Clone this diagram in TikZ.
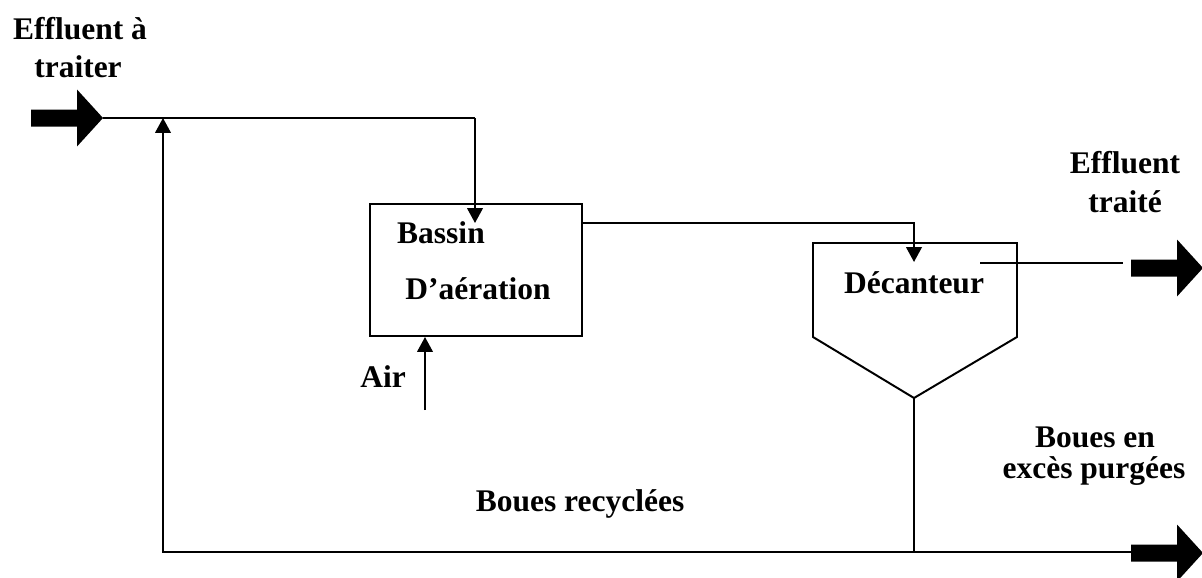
\documentclass[tikz,border=0pt]{standalone}
\usepackage{fontspec}
\setmainfont{Liberation Serif}
\usetikzlibrary{arrows.meta,positioning}

\tikzset{
  lbl/.style={font=\fontsize{22.4}{26}\selectfont\bfseries, inner sep=0pt, anchor=base},
  flow/.style={line width=1.4pt},
  flowarrow/.style={-{Triangle[length=10.5pt,width=11pt]}},
  fatarrow/.pic={\fill (-72,-8.5) -- (-26,-8.5) -- (-26,-28.5) -- (0,0) -- (-26,28.5) -- (-26,8.5) -- (-72,8.5) -- cycle;}
}

\begin{document}
\begin{tikzpicture}[x=0.025cm, y=-0.025cm]
  \useasboundingbox (0,0) rectangle (1202,578);

  % Entree
  \node[lbl] (inlbl1) at (80,40) {Effluent à};
  \node[lbl] (inlbl2) at (78,77) {traiter};
  \pic at (103,118) {fatarrow};
  \coordinate (intip) at (103,118);
  \coordinate (mix) at (163,118);
  \coordinate (feed) at (475,118);

  % Bassin d'aeration
  \node[draw, flow, minimum width=5.3cm, minimum height=3.3cm, inner sep=0pt, anchor=north west] (bassin) at (369,203) {};
  \node[lbl] (bassin1) at (441,243) {Bassin};
  \node[lbl] (bassin2) at (478,299) {D’aération};
  \node[lbl] (air) at (383,387) {Air};
  \coordinate (airin) at (425,410);
  \coordinate (bassinin) at (475,223);
  \coordinate (bassinout) at (581,223);

  \draw[flow] (intip) -- (feed);
  \draw[flow, flowarrow] (feed) -- (bassinin);
  \draw[flow, flowarrow] (airin) -- (airin |- bassin.south);

  % Decanteur
  \draw[flow] (813,243) -- (1017,243) -- (1017,337) -- (914,398) coordinate (decbot) -- (813,337) -- cycle;
  \node[lbl] (dec) at (914,293) {Décanteur};
  \coordinate (decin) at (914,262);
  \draw[flow, flowarrow] (bassinout) -- (bassinout -| decin) -- (decin);

  % Effluent traite
  \coordinate (clear) at (980,263);
  \coordinate (clearend) at (1123,263);
  \draw[flow] (clear) -- (clearend);
  \pic at (1203,268) {fatarrow};
  \node[lbl] (outlbl1) at (1125,173) {Effluent};
  \node[lbl] (outlbl2) at (1125,212) {traité};

  % Boues
  \coordinate (purge) at (1131,552);
  \coordinate (recycle) at (163,552);
  \draw[flow] (decbot) -- (decbot |- purge);
  \draw[flow, flowarrow] (purge) -- (recycle) -- (mix);
  \pic at (1203,553) {fatarrow};
  \node[lbl] (reclbl) at (580,511) {Boues recyclées};
  \node[lbl] (purlbl1) at (1095,447) {Boues en};
  \node[lbl] (purlbl2) at (1094,478) {excès purgées};
\end{tikzpicture}
\end{document}
